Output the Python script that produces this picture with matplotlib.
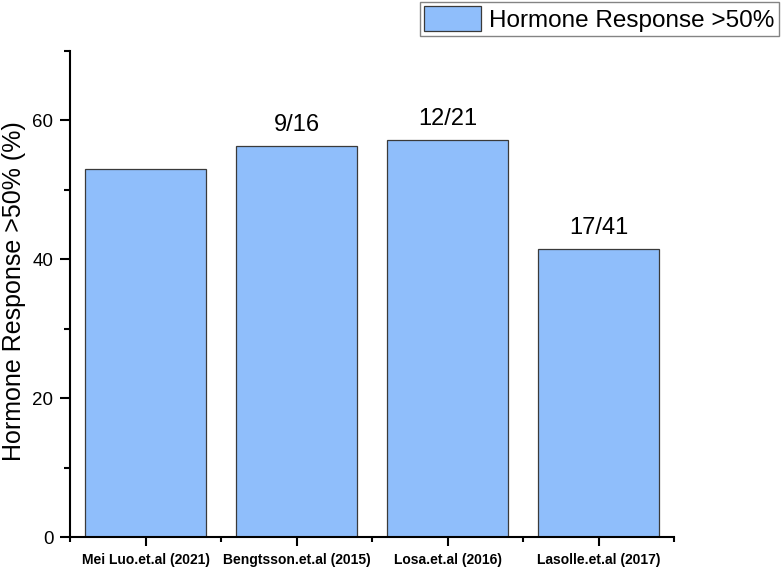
import matplotlib
matplotlib.use("Agg")
import matplotlib.pyplot as plt
from matplotlib.ticker import MultipleLocator, FixedLocator

categories = ["Mei Luo.et.al (2021)", "Bengtsson.et.al (2015)", "Losa.et.al (2016)", "Lasolle.et.al (2017)"]
values = [53.0, 56.25, 57.14, 41.46]
annotations = ["", "9/16", "12/21", "17/41"]
series_name = "Hormone Response >50%"
y_label = "Hormone Response >50% (%)"

plt.rcParams["font.family"] = ["Liberation Sans", "DejaVu Sans"]

fig = plt.figure(figsize=(7.84, 5.69), dpi=100)
ax = fig.add_axes([70/784, 32/569, 604/784, 486/569])

x = list(range(len(categories)))
bars = ax.bar(x, values, width=0.8, color="#8fbefb", edgecolor="#3a3a3a", linewidth=0.9, label=series_name)
for xi, v, t in zip(x, values, annotations):
    if t:
        ax.text(xi, v + 2.2, t, ha="center", va="baseline", fontsize=17)

ax.set_xlim(-0.5, 3.5)
ax.set_ylim(0, 70)
ax.yaxis.set_major_locator(MultipleLocator(20))
ax.yaxis.set_minor_locator(MultipleLocator(10))
ax.xaxis.set_major_locator(FixedLocator(x))
ax.xaxis.set_minor_locator(FixedLocator([-0.5, 0.5, 1.5, 2.5, 3.5]))
ax.set_xticks(x)
ax.set_xticklabels(categories, fontsize=10, fontweight="bold")
ax.tick_params(axis="y", which="major", direction="out", length=7, width=1.5, labelsize=13.5, pad=5)
ax.tick_params(axis="y", which="minor", direction="out", length=4, width=1.5)
ax.tick_params(axis="x", which="major", direction="out", length=6.5, width=1.5, pad=5)
ax.tick_params(axis="x", which="minor", direction="out", length=3.5, width=1.5)
for s in ["top", "right"]:
    ax.spines[s].set_visible(False)
for s in ["left", "bottom"]:
    ax.spines[s].set_linewidth(1.5)
ax.set_ylabel(y_label, fontsize=18)
ax.yaxis.set_label_coords(-44/604, 0.505)

leg = fig.legend(handles=[bars], labels=[series_name], loc="upper right",
                 bbox_to_anchor=(779/784, 1 - 2/569), fontsize=17.5, frameon=True,
                 fancybox=False, edgecolor="#666666", handlelength=2.35, handleheight=1.2,
                 borderpad=0.17, handletextpad=0.35, borderaxespad=0)
leg.get_frame().set_linewidth(1.0)

fig.savefig("out.png", dpi=100)
